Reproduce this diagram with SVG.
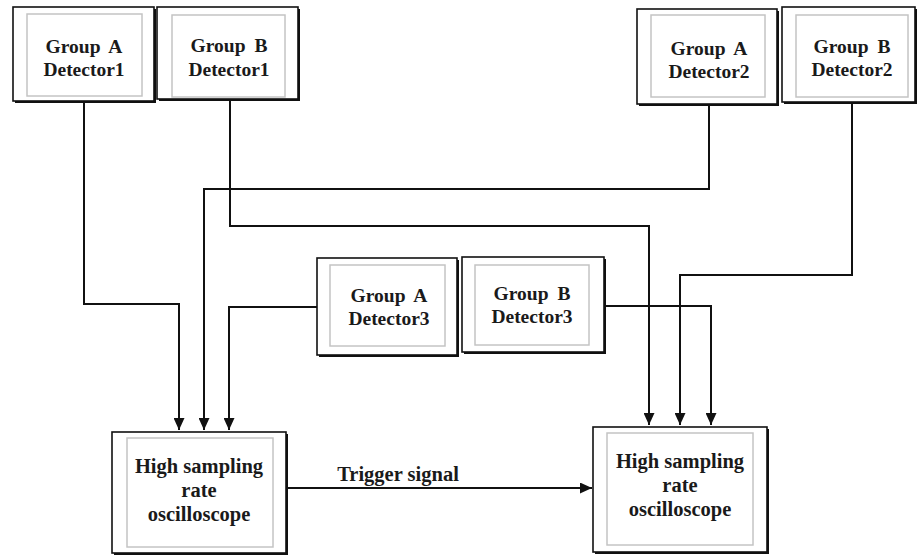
<svg xmlns="http://www.w3.org/2000/svg" width="918" height="556" viewBox="0 0 918 556">
<style>
.sh{fill:#111}
.out{fill:#fff;stroke:#111;stroke-width:1.6}
.in{fill:#fff;stroke:#c4c4c4;stroke-width:1.5}
.t{font-family:"Liberation Serif","Times New Roman",serif;font-weight:bold;fill:#1a1a1a;text-anchor:middle}
.d{font-size:19.5px;word-spacing:4px}
.o{font-size:20.5px}
.c{fill:none;stroke:#111;stroke-width:2}
</style>
<defs>
<marker id="arr" markerUnits="userSpaceOnUse" markerWidth="12" markerHeight="11" refX="12" refY="5.5" orient="auto">
<path d="M0,0 L12,5.5 L0,11 z" fill="#111"/>
</marker>
</defs>
<rect width="918" height="556" fill="#fff"/>
<g id="connectors">
<path class="c" d="M84,101 V304 H179 V430" marker-end="url(#arr)"/>
<path class="c" d="M230,99 V226 H649 V425" marker-end="url(#arr)"/>
<path class="c" d="M709,104 V189 H204 V430" marker-end="url(#arr)"/>
<path class="c" d="M852,102 V275 H680 V425" marker-end="url(#arr)"/>
<path class="c" d="M317,307 H229 V430" marker-end="url(#arr)"/>
<path class="c" d="M604,306 H711 V425" marker-end="url(#arr)"/>
<path class="c" d="M286,488 H592" marker-end="url(#arr)"/>
<text class="t o" x="398" y="481">Trigger signal</text>
</g>
<g id="groupA_detector1">
<rect class="sh" x="15" y="9" width="141" height="94"/>
<rect class="out" x="13" y="7" width="141" height="94"/>
<rect class="in" x="27" y="14" width="115" height="82"/>
<text class="t d" x="84" y="53">Group A</text>
<text class="t d" x="84" y="76">Detector1</text>
</g>
<g id="groupB_detector1">
<rect class="sh" x="159" y="9" width="141" height="92"/>
<rect class="out" x="157" y="7" width="141" height="92"/>
<rect class="in" x="172" y="15" width="113" height="82"/>
<text class="t d" x="229" y="52">Group B</text>
<text class="t d" x="229" y="76">Detector1</text>
</g>
<g id="groupA_detector2">
<rect class="sh" x="639" y="11" width="140" height="95"/>
<rect class="out" x="637" y="9" width="140" height="95"/>
<rect class="in" x="651" y="15" width="114" height="82"/>
<text class="t d" x="709" y="55">Group A</text>
<text class="t d" x="709" y="78">Detector2</text>
</g>
<g id="groupB_detector2">
<rect class="sh" x="784" y="9" width="133" height="95"/>
<rect class="out" x="782" y="7" width="133" height="95"/>
<rect class="in" x="796" y="15" width="112" height="82"/>
<text class="t d" x="852" y="53">Group B</text>
<text class="t d" x="852" y="76">Detector2</text>
</g>
<g id="groupA_detector3">
<rect class="sh" x="319" y="260" width="140" height="97"/>
<rect class="out" x="317" y="258" width="140" height="97"/>
<rect class="in" x="330" y="265" width="115" height="81"/>
<text class="t d" x="389" y="302">Group A</text>
<text class="t d" x="389" y="325">Detector3</text>
</g>
<g id="groupB_detector3">
<rect class="sh" x="464" y="259" width="142" height="95"/>
<rect class="out" x="462" y="257" width="142" height="95"/>
<rect class="in" x="475" y="265" width="114" height="80"/>
<text class="t d" x="532" y="300">Group B</text>
<text class="t d" x="532" y="323">Detector3</text>
</g>
<g id="oscilloscope_left">
<rect class="sh" x="114" y="434" width="174" height="121"/>
<rect class="out" x="112" y="432" width="174" height="121"/>
<rect class="in" x="127" y="438" width="146" height="109"/>
<text class="t o" x="199" y="473">High sampling</text>
<text class="t o" x="199" y="497">rate</text>
<text class="t o" x="199" y="521">oscilloscope</text>
</g>
<g id="oscilloscope_right">
<rect class="sh" x="595" y="429" width="174" height="125"/>
<rect class="out" x="593" y="427" width="174" height="125"/>
<rect class="in" x="607" y="433" width="146" height="112"/>
<text class="t o" x="680" y="468">High sampling</text>
<text class="t o" x="680" y="492">rate</text>
<text class="t o" x="680" y="516">oscilloscope</text>
</g>
</svg>
